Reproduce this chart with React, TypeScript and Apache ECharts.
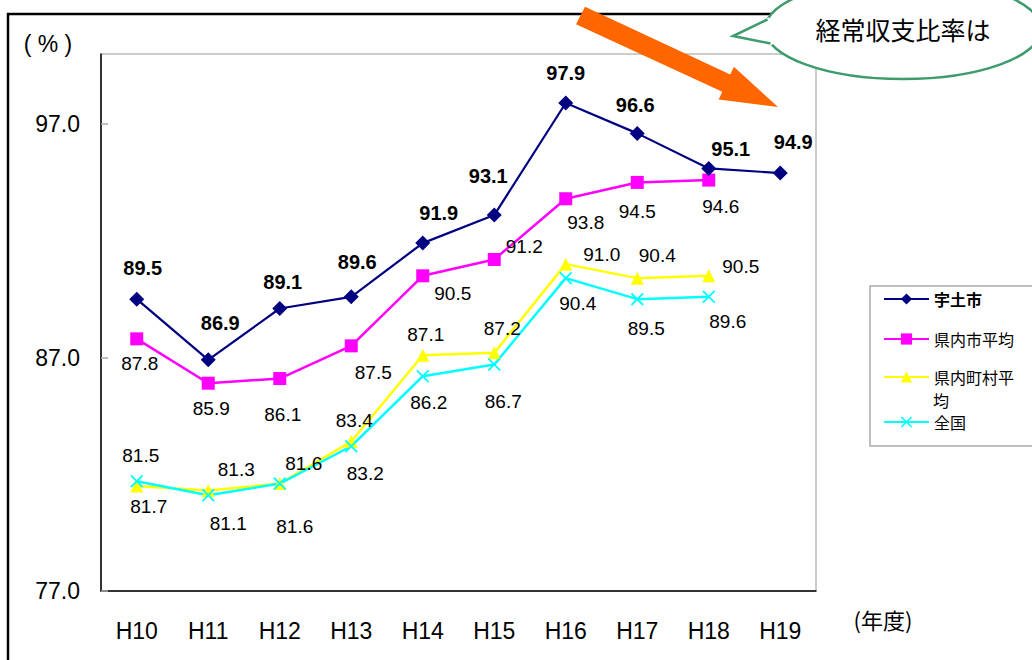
import React, { useEffect, useRef } from "react";
import * as echarts from "echarts";

const categories = ["H10", "H11", "H12", "H13", "H14", "H15", "H16", "H17", "H18", "H19"];
const utoCity = [89.5, 86.9, 89.1, 89.6, 91.9, 93.1, 97.9, 96.6, 95.1, 94.9];
const prefCityAvg = [87.8, 85.9, 86.1, 87.5, 90.5, 91.2, 93.8, 94.5, 94.6, null];
const prefTownAvg = [81.5, 81.3, 81.6, 83.4, 87.1, 87.2, 91.0, 90.4, 90.5, null];
const national = [81.7, 81.1, 81.6, 83.2, 86.2, 86.7, 90.4, 89.5, 89.6, null];
const yTicks = [77, 87, 97];
const seriesNames = ["宇土市", "県内市平均", "県内町村平均", "全国"];

// label offsets (layout only)
const utoOff = [[6, -31], [12, -37], [3, -26], [6, -35], [16, -30], [-6, -39], [0, -30], [-2, -28], [22, -19], [13, -31]];
const cityOff = [[3, 25], [3, 25], [3, 36], [22, 27], [30, 18], [30, -13], [20, 24], [0, 29], [12, 26]];
const townOff = [[4, -30], [28, -21], [24, -20], [3, -21], [3, -21], [8, -24], [36, -10], [20, -23], [32, -9]];
const natOff = [[12, 25], [20, 28], [15, 43], [14, 27], [6, 26], [9, 37], [12, 25], [9, 29], [19, 25]];

const LATIN = "'Liberation Sans', Arial, 'Noto Sans CJK JP', sans-serif";
const CJK = "'Noto Sans CJK JP', 'Liberation Sans', sans-serif";
const X_SYMBOL = "path://M0,1 L1,0 L5,4 L9,0 L10,1 L6,5 L10,9 L9,10 L5,6 L1,10 L0,9 L4,5 Z";

function withLabels(values: (number | null)[], offs: number[][]) {
  return values.map((v, i) =>
    v === null ? null : { value: v, label: { offset: offs[i] || [0, 0] } }
  );
}

export default function App() {
  const ref = useRef<HTMLDivElement>(null);
  useEffect(() => {
    if (!ref.current) return;
    const chart = echarts.init(ref.current, undefined, { renderer: "svg" });
    const baseLabel = {
      show: true,
      position: "inside",
      align: "center",
      verticalAlign: "middle",
      color: "#000",
      fontFamily: LATIN,
      fontSize: 19,
      formatter: (p: any) => Number(p.value).toFixed(1),
    };
    const legendCommon = {
      orient: "vertical",
      left: 883,
      padding: 0,
      itemWidth: 45,
      itemHeight: 14,
      selectedMode: false,
      textStyle: { color: "#000", fontFamily: CJK, fontSize: 16, lineHeight: 18 },
    };
    const option: any = {
      animation: false,
      backgroundColor: "#fff",
      grid: {
        left: 101,
        top: 54,
        width: 715,
        height: 537,
        show: true,
        borderColor: "#999",
        borderWidth: 1,
        containLabel: false,
      },
      xAxis: {
        type: "category",
        data: categories,
        boundaryGap: true,
        axisLine: { lineStyle: { color: "#000", width: 1.5 } },
        axisTick: { inside: true, length: 7, lineStyle: { color: "#aaa", width: 1.5 } },
        axisLabel: { color: "#000", fontFamily: LATIN, fontSize: 23, margin: 28 },
      },
      yAxis: {
        type: "value",
        min: 77,
        max: 100,
        splitLine: { show: false },
        axisLine: { show: true, lineStyle: { color: "#000", width: 1.5 } },
        axisTick: { show: true, inside: true, length: 7, customValues: yTicks, lineStyle: { color: "#aaa", width: 1.5 } },
        axisLabel: {
          customValues: yTicks,
          color: "#000",
          fontFamily: LATIN,
          fontSize: 23,
          margin: 21,
          formatter: (v: number) => v.toFixed(1),
        },
      },
      legend: [
        { ...legendCommon, top: 290, data: [seriesNames[0]], textStyle: { ...legendCommon.textStyle, fontWeight: "bold" } },
        { ...legendCommon, top: 330, data: [seriesNames[1]] },
        { ...legendCommon, top: 368, data: [seriesNames[2]], formatter: () => "県内町村平" },
        { ...legendCommon, top: 413, data: [seriesNames[3]] },
      ],
      series: [
        {
          name: seriesNames[0],
          type: "line",
          data: withLabels(utoCity, utoOff),
          symbol: "diamond",
          symbolSize: 15,
          z: 5,
          lineStyle: { color: "#000080", width: 2.2 },
          itemStyle: { color: "#000080" },
          label: { ...baseLabel, fontWeight: "bold", fontSize: 20 },
        },
        {
          name: seriesNames[1],
          type: "line",
          data: withLabels(prefCityAvg, cityOff),
          symbol: "rect",
          symbolSize: 13,
          z: 4,
          lineStyle: { color: "#ff00ff", width: 2.5 },
          itemStyle: { color: "#ff00ff" },
          label: baseLabel,
        },
        {
          name: seriesNames[2],
          type: "line",
          data: withLabels(prefTownAvg, townOff),
          symbol: "triangle",
          symbolSize: 13,
          z: 3,
          lineStyle: { color: "#ffff00", width: 2.5 },
          itemStyle: { color: "#ffff00" },
          label: baseLabel,
        },
        {
          name: seriesNames[3],
          type: "line",
          data: withLabels(national, natOff),
          symbol: X_SYMBOL,
          symbolSize: 13,
          z: 3,
          lineStyle: { color: "#00ffff", width: 2.5 },
          itemStyle: { color: "#00ffff" },
          label: baseLabel,
        },
      ],
      graphic: [
        {
          type: "rect",
          z: -10,
          silent: true,
          shape: { x: 8, y: 14, width: 1200, height: 900 },
          style: { fill: "none", stroke: "#000", lineWidth: 2.5 },
        },
        {
          type: "rect",
          silent: true,
          shape: { x: 870, y: 286, width: 170, height: 160 },
          style: { fill: "#fff", stroke: "#aaa", lineWidth: 1.5 },
          z: 0,
        },
        {
          type: "text",
          silent: true,
          z: 10,
          style: { text: "均", x: 933, y: 400, fill: "#000", font: `16px ${CJK}`, verticalAlign: "middle", lineHeight: 16 },
        },
        {
          type: "text",
          silent: true,
          style: { text: "( % )", x: 48, y: 44, fill: "#000", font: `23px ${LATIN}`, align: "center", verticalAlign: "middle" },
        },
        {
          type: "text",
          silent: true,
          style: { text: "(年度)", x: 883, y: 619, fill: "#000", font: `22px ${CJK}`, align: "center", verticalAlign: "middle" },
        },
        {
          type: "polygon",
          silent: true,
          z: 20,
          shape: {
            points: [
              [585, 6.8], [730.3, 74.4], [733.9, 66.8], [778, 107], [718.7, 99.4], [722.3, 91.8], [576, 24.2],
            ],
          },
          style: { fill: "#ff6600" },
        },
        {
          type: "ellipse",
          silent: true,
          z: 21,
          shape: { cx: 903, cy: 29, rx: 138, ry: 50 },
          style: { fill: "#fff", stroke: "#3d9b6e", lineWidth: 2.5 },
        },
        {
          type: "polygon",
          silent: true,
          z: 22,
          shape: { points: [[768.5, 17.5], [733, 36], [771, 45.5], [788, 32]] },
          style: { fill: "#fff" },
        },
        {
          type: "polyline",
          silent: true,
          z: 23,
          shape: { points: [[767.5, 19.5], [733, 36], [770.5, 43.5]] },
          style: { fill: "none", stroke: "#3d9b6e", lineWidth: 2.5 },
        },
        {
          type: "text",
          silent: true,
          z: 24,
          style: { text: "経常収支比率は", x: 903, y: 29, fill: "#000", font: `25px ${CJK}`, align: "center", verticalAlign: "middle" },
        },
      ],
    };
    chart.setOption(option);
    return () => chart.dispose();
  }, []);
  return (
    <div
      ref={ref}
      style={{ position: "fixed", left: 0, top: 0, width: 1032, height: 660 }}
    />
  );
}
